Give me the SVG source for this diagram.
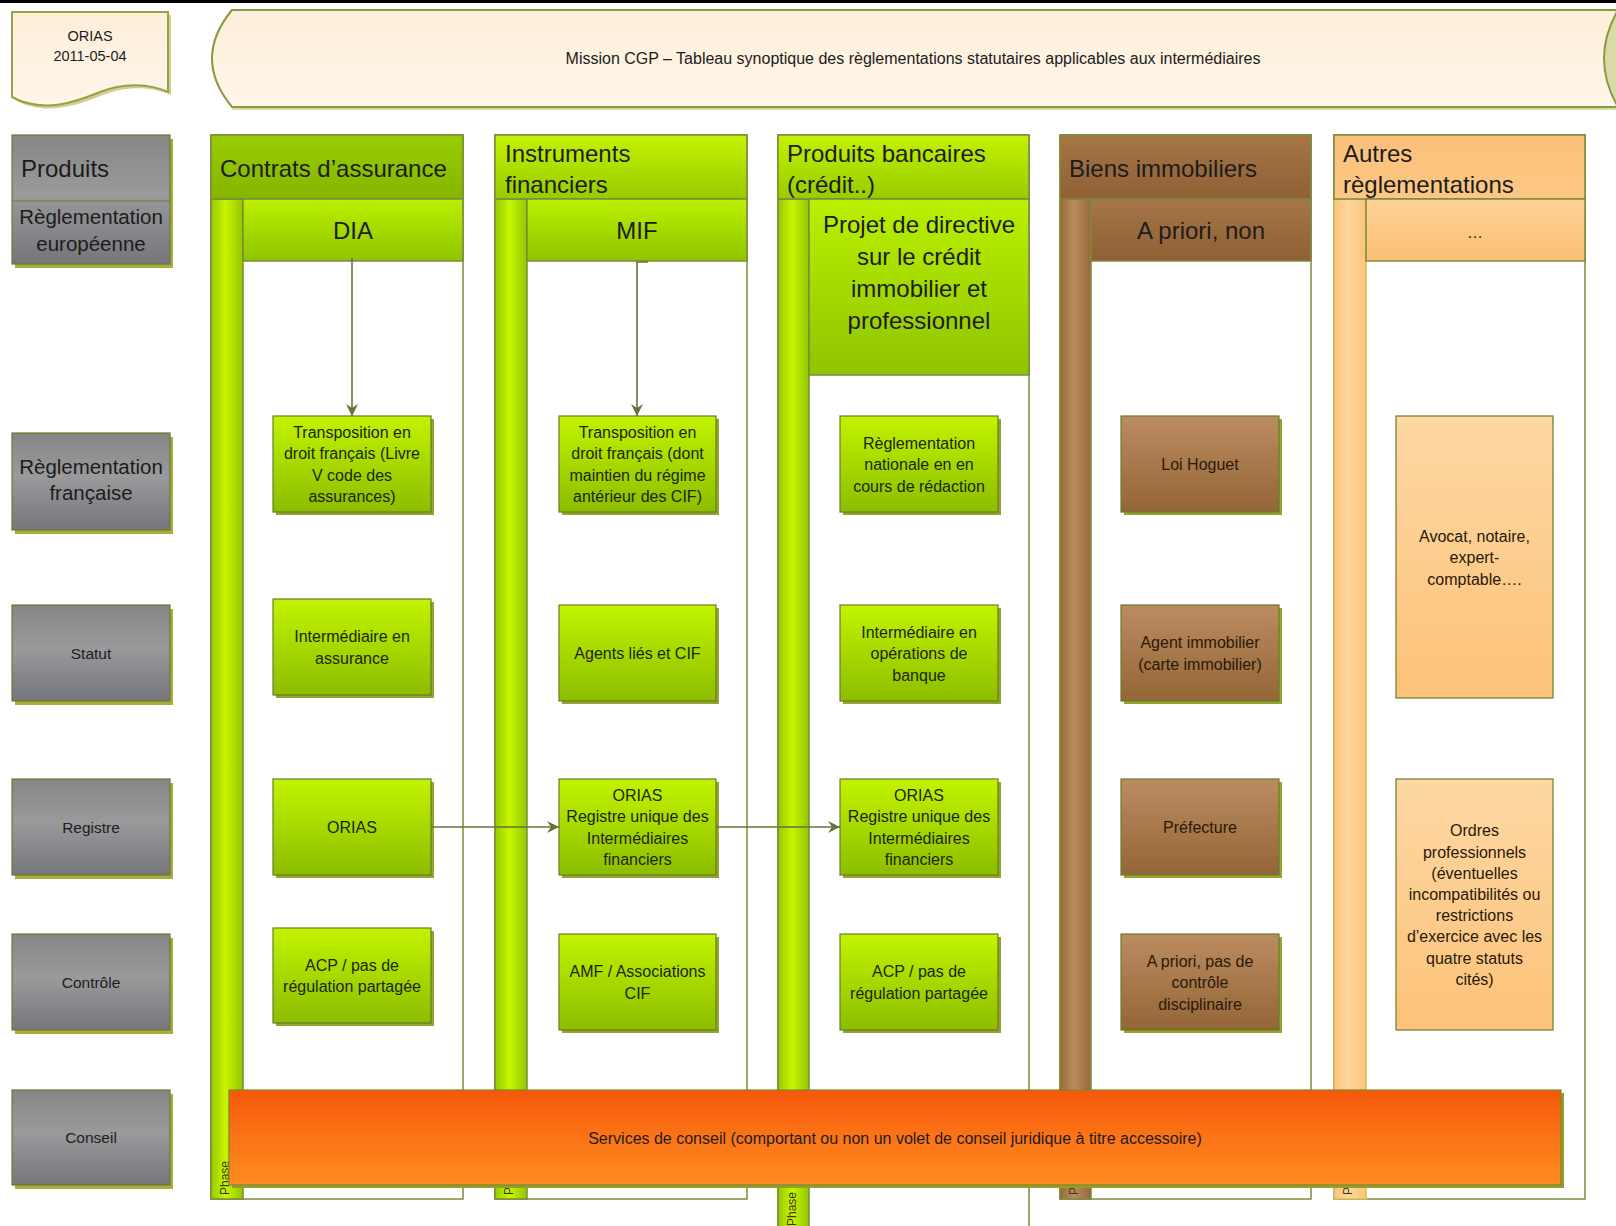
<svg xmlns="http://www.w3.org/2000/svg" width="1616" height="1226" viewBox="0 0 1616 1226">
<defs>
<linearGradient id="gGray" x1="0" y1="0" x2="0" y2="1"><stop offset="0" stop-color="#868686"/><stop offset="0.45" stop-color="#9a9a9c"/><stop offset="1" stop-color="#75757c"/></linearGradient>
<linearGradient id="gN" x1="0" y1="0" x2="0" y2="1"><stop offset="0" stop-color="#c2f400"/><stop offset="1" stop-color="#8cbd00"/></linearGradient>
<linearGradient id="gSub" x1="0" y1="0" x2="0" y2="1"><stop offset="0" stop-color="#bbf000"/><stop offset="1" stop-color="#8fc400"/></linearGradient>
<linearGradient id="gHead1" x1="0" y1="0" x2="0" y2="1"><stop offset="0" stop-color="#98cc00"/><stop offset="1" stop-color="#84b600"/></linearGradient>
<linearGradient id="gHead" x1="0" y1="0" x2="0" y2="1"><stop offset="0" stop-color="#c4f200"/><stop offset="1" stop-color="#98cb00"/></linearGradient>
<linearGradient id="gBarG" x1="0" y1="0" x2="1" y2="0"><stop offset="0" stop-color="#94c900"/><stop offset="0.45" stop-color="#c8f500"/><stop offset="1" stop-color="#92c700"/></linearGradient>
<linearGradient id="gBrH" x1="0" y1="0" x2="0" y2="1"><stop offset="0" stop-color="#a67647"/><stop offset="1" stop-color="#8e6034"/></linearGradient>
<linearGradient id="gBrN" x1="0" y1="0" x2="0" y2="1"><stop offset="0" stop-color="#bb8c60"/><stop offset="1" stop-color="#946536"/></linearGradient>
<linearGradient id="gBrBar" x1="0" y1="0" x2="1" y2="0"><stop offset="0" stop-color="#98693b"/><stop offset="0.45" stop-color="#b98b5d"/><stop offset="1" stop-color="#976839"/></linearGradient>
<linearGradient id="gOrH" x1="0" y1="0" x2="0" y2="1"><stop offset="0" stop-color="#fbc07a"/><stop offset="1" stop-color="#fcc884"/></linearGradient>
<linearGradient id="gOrS" x1="0" y1="0" x2="0" y2="1"><stop offset="0" stop-color="#fdd296"/><stop offset="1" stop-color="#fbbe72"/></linearGradient>
<linearGradient id="gOrN" x1="0" y1="0" x2="0" y2="1"><stop offset="0" stop-color="#fdd8a4"/><stop offset="1" stop-color="#fcc278"/></linearGradient>
<linearGradient id="gOrBar" x1="0" y1="0" x2="1" y2="0"><stop offset="0" stop-color="#fcc47a"/><stop offset="0.45" stop-color="#fdd6a0"/><stop offset="1" stop-color="#fcc47a"/></linearGradient>
<linearGradient id="gBan" x1="0" y1="0" x2="0" y2="1"><stop offset="0" stop-color="#fdeed8"/><stop offset="1" stop-color="#fef6ea"/></linearGradient>
<linearGradient id="gCons" x1="0" y1="0" x2="0" y2="1"><stop offset="0" stop-color="#f4580c"/><stop offset="0.5" stop-color="#fc7416"/><stop offset="1" stop-color="#ff8c22"/></linearGradient>
<marker id="arr" markerUnits="userSpaceOnUse" markerWidth="14" markerHeight="12" refX="12" refY="6" orient="auto"><path d="M0,0 L12,6 L0,12 L4,6 z" fill="#65733a"/></marker>
<style>
.t{font-family:"Liberation Sans",Arial,sans-serif;fill:#1c1c1c}
.c{text-anchor:middle;dominant-baseline:central}
.l{dominant-baseline:central}
.h{font-size:24px}
.s{font-size:16px;fill:#202600}
.b{font-size:16px;fill:#2a1808}
.g{font-size:15.5px;fill:#202020}
.ln{stroke:#7c8a3a;stroke-width:1.5}
.nb{stroke:#6b7b2b;stroke-width:1.2}
.sh{fill:#93a52c}
.shg{fill:#a9ad3c}
.conn{fill:none;stroke:#65733a;stroke-width:1.6}
.ph{font-family:"Liberation Sans",Arial,sans-serif;font-size:12px;fill:#3a3a10;dominant-baseline:central}
</style>
</defs>
<rect x="0" y="0" width="1616" height="1226" fill="#ffffff"/>
<rect x="0" y="0" width="1616" height="3" fill="#000"/>

<g id="doc-orias">
<path d="M15,15 H171 V95 C153,87 128,85 103,95 C83,103 48,118 15,100 Z" fill="#b0b048" opacity="0.6"/>
<path d="M12,12 H168 V92 C150,84 125,82 100,92 C80,100 45,115 12,97 Z" fill="url(#gBan)" stroke="#9aa048" stroke-width="2"/>
<text class="t c" font-size="14.5" x="90" y="36">ORIAS</text>
<text class="t c" font-size="14.5" x="90" y="56">2011-05-04</text>
</g>

<g id="banner">
<path d="M232,13 H1620 V110 H232 Z" fill="#b4b850" opacity="0.5"/>
<path d="M232,10 H1618 Q1590,58.5 1618,107 H232 Q192,58.5 232,10 Z" fill="url(#gBan)" stroke="#8a9a40" stroke-width="2"/>
<text class="t c" font-size="16" x="913" y="58">Mission CGP – Tableau synoptique des règlementations statutaires applicables aux intermédiaires</text>
</g>

<g id="row-produits">
<rect class="shg" x="15" y="139" width="158" height="129"/>
<rect x="12" y="135" width="158" height="129" fill="url(#gGray)" class="nb"/>
<line x1="12" y1="201" x2="170" y2="201" stroke="#6b7b2b" stroke-width="1.2"/>
<text class="t l" font-size="24" x="21" y="168">Produits</text>
<text class="t c" font-size="20.5" x="91"><tspan x="91" y="216">Règlementation</tspan><tspan x="91" y="243">européenne</tspan></text>
</g>
<g id="row-reglfr">
<rect class="shg" x="15" y="437" width="158" height="97"/>
<rect x="12" y="433" width="158" height="97" fill="url(#gGray)" class="nb"/>
<text class="t c" font-size="20.5" x="91"><tspan x="91" y="466">Règlementation</tspan><tspan x="91" y="491.5">française</tspan></text>
</g>
<g id="row-statut">
<rect class="shg" x="15" y="609" width="158" height="96"/>
<rect x="12" y="605" width="158" height="96" fill="url(#gGray)" class="nb"/>
<text class="t c g" x="91" y="653">Statut</text>
</g>
<g id="row-registre">
<rect class="shg" x="15" y="783" width="158" height="96"/>
<rect x="12" y="779" width="158" height="96" fill="url(#gGray)" class="nb"/>
<text class="t c g" x="91" y="827">Registre</text>
</g>
<g id="row-controle">
<rect class="shg" x="15" y="938" width="158" height="96"/>
<rect x="12" y="934" width="158" height="96" fill="url(#gGray)" class="nb"/>
<text class="t c g" x="91" y="982">Contrôle</text>
</g>
<g id="row-conseil">
<rect class="shg" x="15" y="1094" width="158" height="95"/>
<rect x="12" y="1090" width="158" height="95" fill="url(#gGray)" class="nb"/>
<text class="t c g" x="91" y="1137.5">Conseil</text>
</g>

<g id="lane-assurance">
<rect x="211" y="135" width="252" height="1064" fill="#fff" class="ln"/>
<rect x="211" y="199" width="32" height="1000" fill="url(#gBarG)" class="ln"/>
<rect x="211" y="135" width="252" height="64" fill="url(#gHead1)" class="ln"/>
<rect x="243" y="199" width="220" height="62" fill="url(#gSub)" class="ln"/>
<text class="t l h" x="220" y="168">Contrats d’assurance</text>
<text class="t c h" x="353" y="230">DIA</text>
<text class="ph" x="225" y="1195" transform="rotate(-90 225 1195)">Phase</text>
</g>
<g id="lane-instruments">
<rect x="495" y="135" width="252" height="1064" fill="#fff" class="ln"/>
<rect x="495" y="199" width="32" height="1000" fill="url(#gBarG)" class="ln"/>
<rect x="495" y="135" width="252" height="64" fill="url(#gHead)" class="ln"/>
<rect x="527" y="199" width="220" height="62" fill="url(#gSub)" class="ln"/>
<text class="t l h" x="505"><tspan x="505" y="152.5">Instruments</tspan><tspan x="505" y="183.5">financiers</tspan></text>
<text class="t c h" x="637" y="230">MIF</text>
<text class="ph" x="509" y="1195" transform="rotate(-90 509 1195)">Phase</text>
</g>
<g id="lane-bancaires">
<rect x="778" y="135" width="251" height="1110" fill="#fff" class="ln"/>
<rect x="778" y="199" width="31" height="1046" fill="url(#gBarG)" class="ln"/>
<rect x="778" y="135" width="251" height="64" fill="url(#gHead)" class="ln"/>
<rect x="809" y="199" width="220" height="176" fill="url(#gSub)" class="ln"/>
<text class="t l h" x="787"><tspan x="787" y="152.5">Produits bancaires</tspan><tspan x="787" y="183.5">(crédit..)</tspan></text>
<text class="t c h" x="919"><tspan x="919" y="224">Projet de directive</tspan><tspan x="919" y="256">sur le crédit</tspan><tspan x="919" y="288">immobilier et</tspan><tspan x="919" y="320">professionnel</tspan></text>
<text class="ph" x="792" y="1226" transform="rotate(-90 792 1226)">Phase</text>
</g>
<g id="lane-immobiliers">
<rect x="1060" y="135" width="251" height="1064" fill="#fff" class="ln"/>
<rect x="1060" y="199" width="31" height="1000" fill="url(#gBrBar)" class="ln"/>
<rect x="1060" y="135" width="251" height="64" fill="url(#gBrH)" class="ln"/>
<rect x="1091" y="199" width="220" height="62" fill="url(#gBrH)" class="ln"/>
<text class="t l h" x="1069" y="168">Biens immobiliers</text>
<text class="t c h" x="1201" y="230">A priori, non</text>
<text class="ph" x="1074" y="1195" transform="rotate(-90 1074 1195)">Phase</text>
</g>
<g id="lane-autres">
<rect x="1334" y="135" width="251" height="1064" fill="#fff" class="ln"/>
<rect x="1334" y="199" width="32" height="1000" fill="url(#gOrBar)" stroke="#d8bc52" stroke-width="1.5"/>
<rect x="1334" y="135" width="251" height="64" fill="url(#gOrH)" class="ln"/>
<rect x="1366" y="199" width="219" height="62" fill="url(#gOrS)" class="ln"/>
<text class="t l h" x="1343"><tspan x="1343" y="152.5">Autres</tspan><tspan x="1343" y="183.5">règlementations</tspan></text>
<text class="t c" font-size="16" fill="#5a4a30" x="1475" y="232">…</text>
<text class="ph" x="1348" y="1195" transform="rotate(-90 1348 1195)">Phase</text>
</g>

<g id="n-transpo-dia">
<rect class="sh" x="276" y="419" width="158" height="96"/>
<rect class="nb" x="273" y="416" width="158" height="96" fill="url(#gN)"/>
<text class="t c s"><tspan x="352" y="431.75">Transposition en</tspan><tspan x="352" y="453.25">droit français (Livre</tspan><tspan x="352" y="474.75">V code des</tspan><tspan x="352" y="496.25">assurances)</tspan></text>
</g>
<g id="n-interm-assurance">
<rect class="sh" x="276" y="602" width="158" height="96"/>
<rect class="nb" x="273" y="599" width="158" height="96" fill="url(#gN)"/>
<text class="t c s"><tspan x="352" y="636.25">Intermédiaire en</tspan><tspan x="352" y="657.75">assurance</tspan></text>
</g>
<g id="n-orias1">
<rect class="sh" x="276" y="782" width="158" height="96"/>
<rect class="nb" x="273" y="779" width="158" height="96" fill="url(#gN)"/>
<text class="t c s" x="352" y="827">ORIAS</text>
</g>
<g id="n-acp1">
<rect class="sh" x="276" y="931" width="158" height="95"/>
<rect class="nb" x="273" y="928" width="158" height="95" fill="url(#gN)"/>
<text class="t c s"><tspan x="352" y="964.75">ACP / pas de</tspan><tspan x="352" y="986.25">régulation partagée</tspan></text>
</g>

<g id="n-transpo-mif">
<rect class="sh" x="562" y="419" width="157" height="96"/>
<rect class="nb" x="559" y="416" width="157" height="96" fill="url(#gN)"/>
<text class="t c s"><tspan x="637.5" y="431.75">Transposition en</tspan><tspan x="637.5" y="453.25">droit français (dont</tspan><tspan x="637.5" y="474.75">maintien du régime</tspan><tspan x="637.5" y="496.25">antérieur des CIF)</tspan></text>
</g>
<g id="n-agents">
<rect class="sh" x="562" y="608" width="157" height="96"/>
<rect class="nb" x="559" y="605" width="157" height="96" fill="url(#gN)"/>
<text class="t c s" x="637.5" y="653">Agents liés et CIF</text>
</g>
<g id="n-orias2">
<rect class="sh" x="562" y="782" width="157" height="96"/>
<rect class="nb" x="559" y="779" width="157" height="96" fill="url(#gN)"/>
<text class="t c s"><tspan x="637.5" y="794.75">ORIAS</tspan><tspan x="637.5" y="816.25">Registre unique des</tspan><tspan x="637.5" y="837.75">Intermédiaires</tspan><tspan x="637.5" y="859.25">financiers</tspan></text>
</g>
<g id="n-amf">
<rect class="sh" x="562" y="937" width="157" height="96"/>
<rect class="nb" x="559" y="934" width="157" height="96" fill="url(#gN)"/>
<text class="t c s"><tspan x="637.5" y="971.25">AMF / Associations</tspan><tspan x="637.5" y="992.75">CIF</tspan></text>
</g>

<g id="n-reglnat">
<rect class="sh" x="843" y="419" width="158" height="96"/>
<rect class="nb" x="840" y="416" width="158" height="96" fill="url(#gN)"/>
<text class="t c s"><tspan x="919" y="442.5">Règlementation</tspan><tspan x="919" y="464">nationale en en</tspan><tspan x="919" y="485.5">cours de rédaction</tspan></text>
</g>
<g id="n-interm-banque">
<rect class="sh" x="843" y="608" width="158" height="96"/>
<rect class="nb" x="840" y="605" width="158" height="96" fill="url(#gN)"/>
<text class="t c s"><tspan x="919" y="631.5">Intermédiaire en</tspan><tspan x="919" y="653">opérations de</tspan><tspan x="919" y="674.5">banque</tspan></text>
</g>
<g id="n-orias3">
<rect class="sh" x="843" y="782" width="158" height="96"/>
<rect class="nb" x="840" y="779" width="158" height="96" fill="url(#gN)"/>
<text class="t c s"><tspan x="919" y="794.75">ORIAS</tspan><tspan x="919" y="816.25">Registre unique des</tspan><tspan x="919" y="837.75">Intermédiaires</tspan><tspan x="919" y="859.25">financiers</tspan></text>
</g>
<g id="n-acp3">
<rect class="sh" x="843" y="937" width="158" height="96"/>
<rect class="nb" x="840" y="934" width="158" height="96" fill="url(#gN)"/>
<text class="t c s"><tspan x="919" y="971.25">ACP / pas de</tspan><tspan x="919" y="992.75">régulation partagée</tspan></text>
</g>

<g id="n-hoguet">
<rect class="sh" x="1124" y="419" width="158" height="96"/>
<rect class="nb" x="1121" y="416" width="158" height="96" fill="url(#gBrN)"/>
<text class="t c b" x="1200" y="464">Loi Hoguet</text>
</g>
<g id="n-agent-immo">
<rect class="sh" x="1124" y="608" width="158" height="96"/>
<rect class="nb" x="1121" y="605" width="158" height="96" fill="url(#gBrN)"/>
<text class="t c b"><tspan x="1200" y="642.25">Agent immobilier</tspan><tspan x="1200" y="663.75">(carte immobilier)</tspan></text>
</g>
<g id="n-prefecture">
<rect class="sh" x="1124" y="782" width="158" height="96"/>
<rect class="nb" x="1121" y="779" width="158" height="96" fill="url(#gBrN)"/>
<text class="t c b" x="1200" y="827">Préfecture</text>
</g>
<g id="n-apriori-ctrl">
<rect class="sh" x="1124" y="937" width="158" height="96"/>
<rect class="nb" x="1121" y="934" width="158" height="96" fill="url(#gBrN)"/>
<text class="t c b"><tspan x="1200" y="960.5">A priori, pas de</tspan><tspan x="1200" y="982">contrôle</tspan><tspan x="1200" y="1003.5">disciplinaire</tspan></text>
</g>

<g id="n-avocat">
<rect class="nb" x="1396" y="416" width="157" height="282" fill="url(#gOrN)"/>
<text class="t c b"><tspan x="1474.5" y="535.5">Avocat, notaire,</tspan><tspan x="1474.5" y="557">expert-</tspan><tspan x="1474.5" y="578.5">comptable….</tspan></text>
</g>
<g id="n-ordres">
<rect class="nb" x="1396" y="779" width="157" height="251" fill="url(#gOrN)"/>
<text class="t c b"><tspan x="1474.5" y="830.3">Ordres</tspan><tspan x="1474.5" y="851.5">professionnels</tspan><tspan x="1474.5" y="872.7">(éventuelles</tspan><tspan x="1474.5" y="893.9">incompatibilités ou</tspan><tspan x="1474.5" y="915.1">restrictions</tspan><tspan x="1474.5" y="936.3">d’exercice avec les</tspan><tspan x="1474.5" y="957.5">quatre statuts</tspan><tspan x="1474.5" y="978.7">cités)</tspan></text>
</g>

<g id="connectors">
<path class="conn" d="M352,258 V416" marker-end="url(#arr)"/>
<path class="conn" d="M648,262 H637 V416" marker-end="url(#arr)"/>
<path class="conn" d="M431,827 H559" marker-end="url(#arr)"/>
<path class="conn" d="M716,827 H840" marker-end="url(#arr)"/>
</g>

<g id="n-conseil">
<rect x="232" y="1093" width="1332" height="95" fill="#8fa02c"/>
<rect x="229" y="1090" width="1332" height="95" fill="url(#gCons)" stroke="#7a8a2a" stroke-width="1.2"/>
<text class="t c" font-size="16" fill="#2a1200" x="895" y="1138">Services de conseil (comportant ou non un volet de conseil juridique à titre accessoire)</text>
</g>
</svg>
